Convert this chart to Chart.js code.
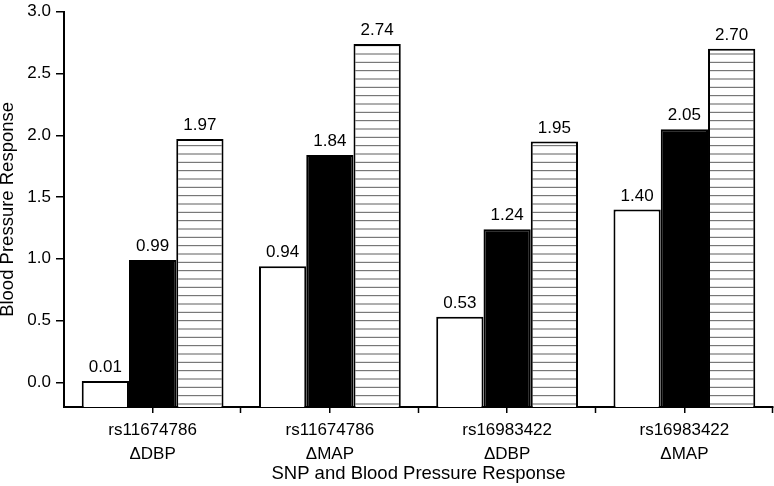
<!DOCTYPE html>
<html>
<head>
<meta charset="utf-8">
<script src="https://cdn.jsdelivr.net/npm/chart.js@4"></script>
<style>
    html, body { margin: 0; padding: 0; background: #fff; }
    #chart { display: block; }
</style>
</head>
<body>
<canvas id="chart" width="774" height="486"></canvas>
<script>
// Chart data
const categories = [
    ['rs11674786', '\u0394DBP'],
    ['rs11674786', '\u0394MAP'],
    ['rs16983422', '\u0394DBP'],
    ['rs16983422', '\u0394MAP']
];
const whiteValues = [0.01, 0.94, 0.53, 1.40];
const blackValues = [0.99, 1.84, 1.24, 2.05];
const hatchedValues = [1.97, 2.74, 1.95, 2.70];
const yTicks = [0, 0.5, 1.0, 1.5, 2.0, 2.5, 3.0];
const yMin = -0.2;
const yMax = 3.0;

const FONT = "'Liberation Sans', Arial, sans-serif";

// Horizontal line hatch
function makeHatch() {
    const c = document.createElement('canvas');
    c.width = 10;
    c.height = 25;
    const g = c.getContext('2d');
    g.fillStyle = '#fff';
    g.fillRect(0, 0, 10, 25);
    g.strokeStyle = '#5e5e5e';
    g.lineWidth = 1;
    for (let i = 0; i < 3; i++) {
        const y = 4 + i * 25 / 3;
        g.beginPath();
        g.moveTo(0, y);
        g.lineTo(10, y);
        g.stroke();
    }
    return g.createPattern(c, 'repeat');
}

// Value labels above the bars
const valueLabels = {
    id: 'valueLabels',
    afterDatasetsDraw(chart) {
        const ctx = chart.ctx;
        ctx.save();
        ctx.fillStyle = '#000';
        ctx.font = '17px ' + FONT;
        ctx.textAlign = 'center';
        ctx.textBaseline = 'bottom';
        chart.data.datasets.forEach((ds, i) => {
            chart.getDatasetMeta(i).data.forEach((bar, j) => {
                ctx.fillText(ds.data[j].toFixed(2), bar.x, bar.y - 5);
            });
        });
        ctx.restore();
    }
};

// Extra tick marks at category boundaries
const boundaryTicks = {
    id: 'boundaryTicks',
    afterDraw(chart) {
        const x = chart.scales.x;
        const ctx = chart.ctx;
        const n = categories.length;
        const step = x.width / n;
        ctx.save();
        ctx.strokeStyle = '#000';
        ctx.lineWidth = 1.5;
        for (let i = 1; i <= n; i++) {
            const px = Math.round(x.getPixelForValue(i - 1) + step / 2) - 0.5;
            ctx.beginPath();
            ctx.moveTo(px, x.top);
            ctx.lineTo(px, x.top + 6);
            ctx.stroke();
        }
        ctx.restore();
    }
};

const common = {
    base: yMin,
    borderColor: '#000',
    borderWidth: 2,
    categoryPercentage: 0.8,
    barPercentage: 1.0
};

new Chart(document.getElementById('chart'), {
    type: 'bar',
    data: {
        labels: categories,
        datasets: [
            Object.assign({ label: 'Group 1', data: whiteValues, backgroundColor: '#fff' }, common),
            Object.assign({ label: 'Group 2', data: blackValues, backgroundColor: '#000' }, common),
            Object.assign({ label: 'Group 3', data: hatchedValues, backgroundColor: makeHatch() }, common)
        ]
    },
    options: {
        responsive: false,
        animation: false,
        devicePixelRatio: 1,
        layout: { padding: { top: 7, right: 1, left: 0, bottom: 0 } },
        plugins: {
            legend: { display: false },
            tooltip: { enabled: false }
        },
        scales: {
            x: {
                offset: true,
                border: { display: true, color: '#000', width: 2 },
                grid: {
                    offset: false,
                    drawOnChartArea: false,
                    color: '#000',
                    lineWidth: 1.5,
                    tickLength: 6
                },
                ticks: {
                    color: '#000',
                    padding: 5,
                    maxRotation: 0,
                    autoSkip: false,
                    font: { family: FONT, size: 17, lineHeight: 1.41 }
                },
                title: {
                    display: true,
                    text: 'SNP and Blood Pressure Response',
                    color: '#000',
                    padding: { top: 0, bottom: 1 },
                    font: { family: FONT, size: 18.5, lineHeight: 1.2 }
                },
                afterFit(scale) { scale.height = 79; }
            },
            y: {
                min: yMin,
                max: yMax,
                border: { display: true, color: '#000', width: 2 },
                grid: {
                    drawOnChartArea: false,
                    color: '#000',
                    lineWidth: 1.5,
                    tickLength: 8
                },
                ticks: {
                    color: '#000',
                    padding: 5,
                    font: { family: FONT, size: 17, lineHeight: 0.8 },
                    callback: v => v.toFixed(1)
                },
                afterBuildTicks(scale) {
                    scale.ticks = yTicks.map(v => ({ value: v }));
                },
                title: {
                    display: true,
                    text: 'Blood Pressure Response',
                    color: '#000',
                    padding: { top: 0, bottom: 0 },
                    font: { family: FONT, size: 18.5, lineHeight: 0.9 }
                },
                afterFit(scale) { scale.width = 64; }
            }
        }
    },
    plugins: [valueLabels, boundaryTicks]
});
</script>
</body>
</html>
